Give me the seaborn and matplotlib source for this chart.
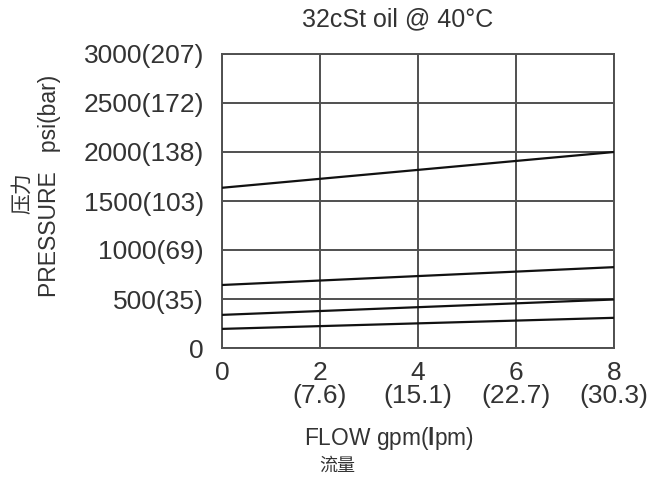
import matplotlib

matplotlib.use("Agg")

import matplotlib.pyplot as plt
import numpy as np
import pandas as pd
import seaborn as sns

# flow in gpm, pressure in psi (four pressure-vs-flow curves)
flow_gpm = [0, 8]
curve_1 = [1635, 2000]
curve_2 = [643, 825]
curve_3 = [338, 495]
curve_4 = [195, 308]

x_ticks = [0, 2, 4, 6, 8]
x_tick_labels = ["0", "2\n(7.6)", "4\n(15.1)", "6\n(22.7)", "8\n(30.3)"]
y_ticks = [0, 500, 1000, 1500, 2000, 2500, 3000]
y_tick_labels = ["0", "500(35)", "1000(69)", "1500(103)", "2000(138)", "2500(172)", "3000(207)"]

frame = pd.DataFrame(
    {
        "flow": flow_gpm * 4,
        "pressure": curve_1 + curve_2 + curve_3 + curve_4,
        "curve": ["c1"] * 2 + ["c2"] * 2 + ["c3"] * 2 + ["c4"] * 2,
    }
)

sns.set_theme(style="white")
plt.rcParams["font.family"] = ["Liberation Sans", "Noto Sans CJK SC", "DejaVu Sans"]
plt.rcParams["mathtext.fontset"] = "custom"
plt.rcParams["mathtext.rm"] = "Liberation Sans"
plt.rcParams["mathtext.bf"] = "Liberation Sans:bold"

text_color = "#333333"
grid_color = "#505050"

fig = plt.figure(figsize=(6.55, 4.8), dpi=100)
ax = fig.add_axes([222 / 655, 1 - 348 / 480, (614 - 222) / 655, (348 - 54) / 480])

sns.lineplot(
    data=frame,
    x="flow",
    y="pressure",
    hue="curve",
    palette=["#111111"] * 4,
    linewidth=1.6,
    legend=False,
    ax=ax,
    zorder=3,
)

ax.set_xlim(0, 8)
ax.set_ylim(0, 3000)
ax.set_xticks(x_ticks)
ax.set_xticklabels(x_tick_labels, fontsize=19, color=text_color, linespacing=0.95, va="top")
ax.set_yticks(y_ticks)
ax.set_yticklabels(y_tick_labels, fontsize=19, color=text_color)
ax.tick_params(axis="both", length=0)
ax.tick_params(axis="y", pad=13)
ax.tick_params(axis="x", pad=9)
ax.grid(True, color=grid_color, linewidth=1.4)
for spine in ax.spines.values():
    spine.set_color(grid_color)
    spine.set_linewidth(1.4)
ax.set_xlabel("")
ax.set_ylabel("")

fig.text(398 / 655, 1 - 19 / 480, "32cSt oil @ 40°C", ha="center", va="center",
         fontsize=18, color=text_color)
fig.text(389 / 655, 1 - 438 / 480, r"FLOW gpm($\mathbf{l}$pm)", ha="center", va="center",
         fontsize=16.4, color=text_color)
fig.text(337 / 655, 1 - 466 / 480, "流量", ha="center", va="center",
         fontsize=13, color=text_color)
fig.text(50 / 655, 1 - 186 / 480, "PRESSURE   psi(bar)", ha="center", va="center",
         rotation=90, fontsize=16.5, color=text_color)
fig.text(22 / 655, 1 - 193 / 480, "压力", ha="center", va="center",
         rotation=90, fontsize=15, color=text_color)

fig.savefig("out.png", dpi=100)
